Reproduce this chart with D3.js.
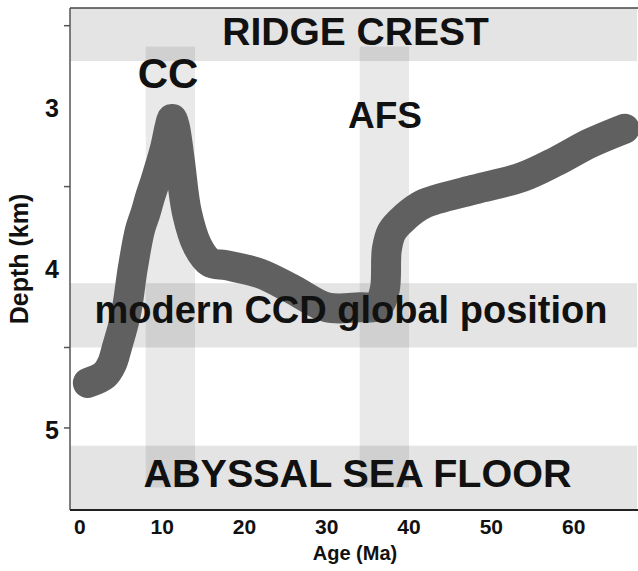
<!DOCTYPE html>
<html>
<head>
<meta charset="utf-8">
<script src="https://cdn.jsdelivr.net/npm/d3@7"></script>
<style>
  html, body { margin: 0; padding: 0; background: #fff; }
  svg { display: block; }
  text { font-family: "Liberation Sans", Arial, Helvetica, sans-serif; font-weight: bold; fill: #111; }
</style>
</head>
<body>
<svg id="chart" width="638" height="571"></svg>
<script>
// Carbonate compensation depth through the Cenozoic
const ages   = [0.97, 3.0, 3.9, 4.5, 5.6, 6.45, 7.3, 8.0, 8.5, 9.2, 10.3, 10.9, 11.2, 11.55, 12.15, 13.0, 14.3, 15.8, 17.9, 21.9, 25.9, 30.0, 34.0, 36.2, 37.05, 37.3, 37.9, 39.5, 41.7, 47.8, 53.8, 58.0, 62.0, 66.2];
const depths = [4.72, 4.67, 4.60, 4.50, 4.29, 4.00, 3.77, 3.66, 3.57, 3.46, 3.27, 3.13, 3.08, 3.13, 3.34, 3.66, 3.87, 3.97, 3.99, 4.04, 4.14, 4.25, 4.25, 4.24, 4.14, 3.89, 3.78, 3.69, 3.61, 3.52, 3.44, 3.34, 3.23, 3.14];

// Horizontal depth zones
const zoneNames  = ["RIDGE CREST", "modern CCD global position", "ABYSSAL SEA FLOOR"];
const zoneTop    = [2.39, 4.10, 5.11];
const zoneBottom = [2.72, 4.50, 5.51];

// Vertical event bands
const eventNames = ["CC", "AFS"];
const eventStart = [8, 34];
const eventEnd   = [14, 40];
const eventTop = 2.63, eventBottom = 5.37;

// Axis ticks
const ageTicks = [0, 10, 20, 30, 40, 50, 60];
const depthTickMarks = [2.5, 3.5, 4.5, 5];
const depthTickLabels = [3, 4, 5];

const svg = d3.select("#chart");
const plotLeft = 70, plotRight = 637, plotTop = 8, plotBottom = 510;

const x = d3.scaleLinear().domain([-1.2, 67.7]).range([plotLeft, plotRight]);
const y = d3.scaleLinear().domain([2.39, 5.51]).range([plotTop, plotBottom]);

// zone bands
const zones = zoneNames.map((n, i) => ({ name: n, t: zoneTop[i], b: zoneBottom[i] }));
svg.append("g").selectAll("rect").data(zones).join("rect")
  .attr("x", plotLeft).attr("width", plotRight - plotLeft)
  .attr("y", d => y(d.t)).attr("height", d => y(d.b) - y(d.t))
  .attr("fill", "#000").attr("fill-opacity", 0.105);

// event bands
const events = eventNames.map((n, i) => ({ name: n, s: eventStart[i], e: eventEnd[i] }));
svg.append("g").selectAll("rect").data(events).join("rect")
  .attr("x", d => x(d.s)).attr("width", d => x(d.e) - x(d.s))
  .attr("y", y(eventTop)).attr("height", y(eventBottom) - y(eventTop))
  .attr("fill", "#000").attr("fill-opacity", 0.085);

// CCD curve
const pts = ages.map((a, i) => [a, depths[i]]);
const line = d3.line().x(d => x(d[0])).y(d => y(d[1])).curve(d3.curveCatmullRom.alpha(0.5));
svg.append("path").attr("d", line(pts))
  .attr("fill", "none").attr("stroke", "#606060").attr("stroke-width", 30)
  .attr("stroke-linecap", "round").attr("stroke-linejoin", "round");

// frame
svg.append("line").attr("x1", plotLeft).attr("x2", plotRight + 1).attr("y1", plotTop).attr("y2", plotTop)
  .attr("stroke", "#444").attr("stroke-width", 1.5);
svg.append("line").attr("x1", plotLeft).attr("x2", plotLeft).attr("y1", plotTop).attr("y2", plotBottom)
  .attr("stroke", "#555").attr("stroke-width", 1.5);
svg.append("line").attr("x1", plotLeft).attr("x2", plotRight + 1).attr("y1", plotBottom).attr("y2", plotBottom)
  .attr("stroke", "#222").attr("stroke-width", 2);

// y tick marks
svg.append("g").selectAll("line").data(depthTickMarks).join("line")
  .attr("x1", plotLeft - 6).attr("x2", plotLeft).attr("y1", d => y(d)).attr("y2", d => y(d))
  .attr("stroke", "#555").attr("stroke-width", 1.5);

// y tick labels
svg.append("g").selectAll("text").data(depthTickLabels).join("text")
  .attr("x", plotLeft - 11).attr("y", d => y(d) + 11)
  .attr("text-anchor", "end").attr("font-size", 25).text(d => d);

// x tick labels
svg.append("g").selectAll("text").data(ageTicks).join("text")
  .attr("x", d => x(d)).attr("y", 534)
  .attr("text-anchor", "middle").attr("font-size", 21).text(d => d);

// axis titles
svg.append("text").attr("x", 355).attr("y", 560)
  .attr("text-anchor", "middle").attr("font-size", 20).text("Age (Ma)");
svg.append("text").attr("transform", "translate(28,259) rotate(-90)")
  .attr("text-anchor", "middle").attr("font-size", 25).text("Depth (km)");

// zone labels
const zoneCenter = [355.5, 351, 357.5];
const zoneBaseline = [45, 323, 487];
const zoneFont = [39, 38, 39.5];
svg.append("g").selectAll("text").data(zones).join("text")
  .attr("x", (d, i) => zoneCenter[i]).attr("y", (d, i) => zoneBaseline[i])
  .attr("text-anchor", "middle").attr("font-size", (d, i) => zoneFont[i]).text(d => d.name);

// event labels
const eventCenter = [168, 385];
const eventBaseline = [88, 128];
const eventFont = [42, 37];
svg.append("g").selectAll("text").data(events).join("text")
  .attr("x", (d, i) => eventCenter[i]).attr("y", (d, i) => eventBaseline[i])
  .attr("text-anchor", "middle").attr("font-size", (d, i) => eventFont[i]).text(d => d.name);
</script>
</body>
</html>
